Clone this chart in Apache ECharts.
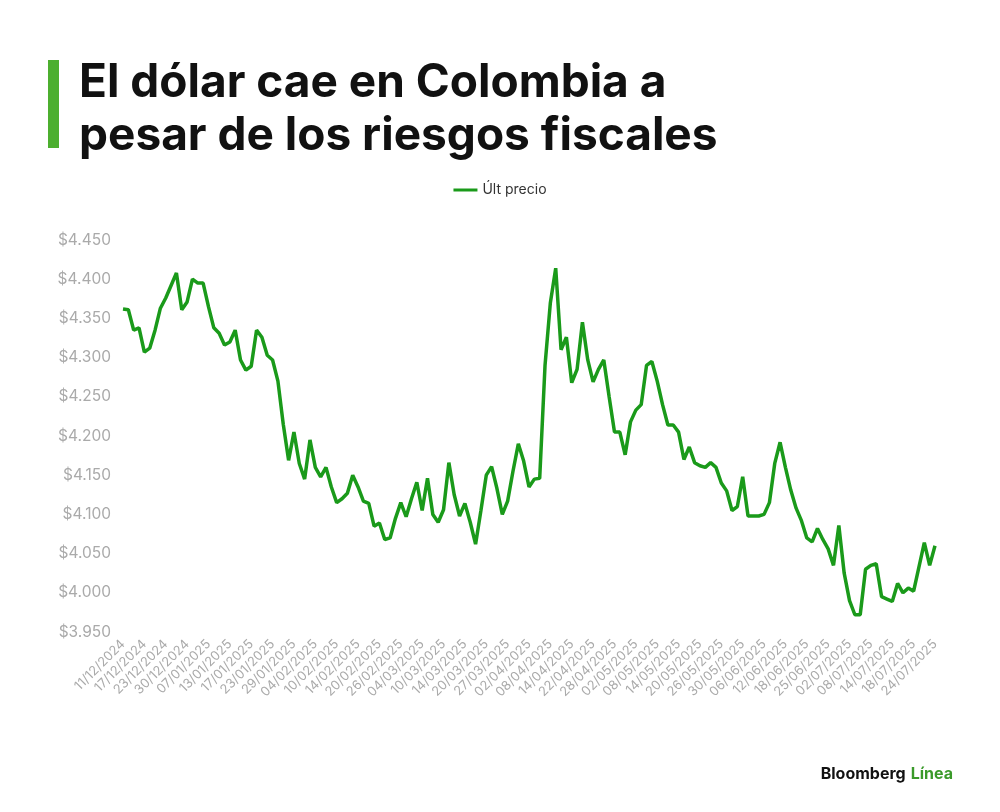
<!DOCTYPE html>
<html><head><meta charset="utf-8">
<script src="https://cdn.jsdelivr.net/npm/echarts@6/dist/echarts.min.js"></script>
<style>html,body{margin:0;padding:0;background:#fff}#c{width:1000px;height:812px}</style>
</head><body><div id="c"></div>
<script>
const tickDates = ["11/12/2024","17/12/2024","23/12/2024","30/12/2024","07/01/2025","13/01/2025","17/01/2025","23/01/2025","29/01/2025","04/02/2025","10/02/2025","14/02/2025","20/02/2025","26/02/2025","04/03/2025","10/03/2025","14/03/2025","20/03/2025","27/03/2025","02/04/2025","08/04/2025","14/04/2025","22/04/2025","28/04/2025","02/05/2025","08/05/2025","14/05/2025","20/05/2025","26/05/2025","30/05/2025","06/06/2025","12/06/2025","18/06/2025","25/06/2025","02/07/2025","08/07/2025","14/07/2025","18/07/2025","24/07/2025"];
const ultPrecio = [4362,4361,4335,4338,4307,4312,4335,4363,4376,4392,4408,4361,4371,4400,4395,4395,4365,4338,4331,4316,
4320,4335,4297,4284,4289,4335,4326,4303,4297,4270,4215,4169,4205,4165,4145,4195,4160,4148,4160,4135,
4115,4120,4127,4150,4135,4117,4114,4085,4089,4068,4070,4095,4115,4097,4120,4141,4105,4146,4100,4090,
4106,4166,4125,4098,4114,4090,4062,4105,4150,4161,4133,4100,4117,4155,4190,4168,4135,4145,4146,4290,
4370,4414,4310,4326,4268,4285,4345,4297,4269,4285,4297,4250,4205,4205,4176,4218,4233,4240,4290,4295,
4270,4240,4214,4214,4205,4170,4186,4166,4162,4160,4166,4160,4140,4130,4105,4110,4148,4098,4098,4098,
4100,4115,4165,4192,4160,4131,4108,4092,4070,4065,4082,4068,4056,4035,4086,4025,3990,3972,3972,4030,
4035,4037,3995,3992,3989,4012,4000,4006,4002,4033,4064,4035,4060];
const categories = [];
tickDates.forEach((d,i)=>{categories.push(d); if(i<tickDates.length-1){categories.push('','','');}});
const chart = echarts.init(document.getElementById('c'));
chart.setOption({
  animation:false,
  title:[{text:'El dólar cae en Colombia a\npesar de los riesgos fiscales',left:74,top:52,
    textStyle:{fontFamily:'Inter',fontWeight:'bold',fontSize:46,lineHeight:53,color:'#111'}},
    {text:'{a|Bloomberg} {b|Línea}',right:42,top:760,textStyle:{rich:{a:{fontFamily:'Inter',fontWeight:'bold',fontSize:16,color:'#111'},b:{fontFamily:'Inter',fontWeight:'bold',fontSize:16,color:'#3a9a2a'}}}}],
  graphic:[{type:'rect',shape:{x:48,y:60,width:11,height:88},style:{fill:'#4caf2f'}}],
  legend:{top:178,left:'center',itemWidth:24,itemHeight:3,icon:'rect',textStyle:{fontFamily:'Inter',fontSize:14,color:'#333'},data:['Últ precio']},
  grid:{left:123,right:65,top:240,bottom:180},
  xAxis:{type:'category',data:categories,boundaryGap:false,
    axisLine:{show:false},axisTick:{show:false},
    axisLabel:{interval:3,rotate:45,color:'#aaa',fontFamily:'Inter',fontSize:13,margin:10}},
  yAxis:{type:'value',min:3950,max:4450,interval:50,splitLine:{show:false},axisLine:{show:false},axisTick:{show:false},
    axisLabel:{color:'#aaa',fontFamily:'Inter',fontSize:15.5,margin:12,formatter:v=>'$'+String(v).replace(/(\d)(\d{3})$/,'$1.$2')}},
  series:[{name:'Últ precio',type:'line',data:ultPrecio,symbol:'none',lineStyle:{color:'#1a9a1a',width:3.5},itemStyle:{color:'#1a9a1a'}}]
});
</script></body></html>
